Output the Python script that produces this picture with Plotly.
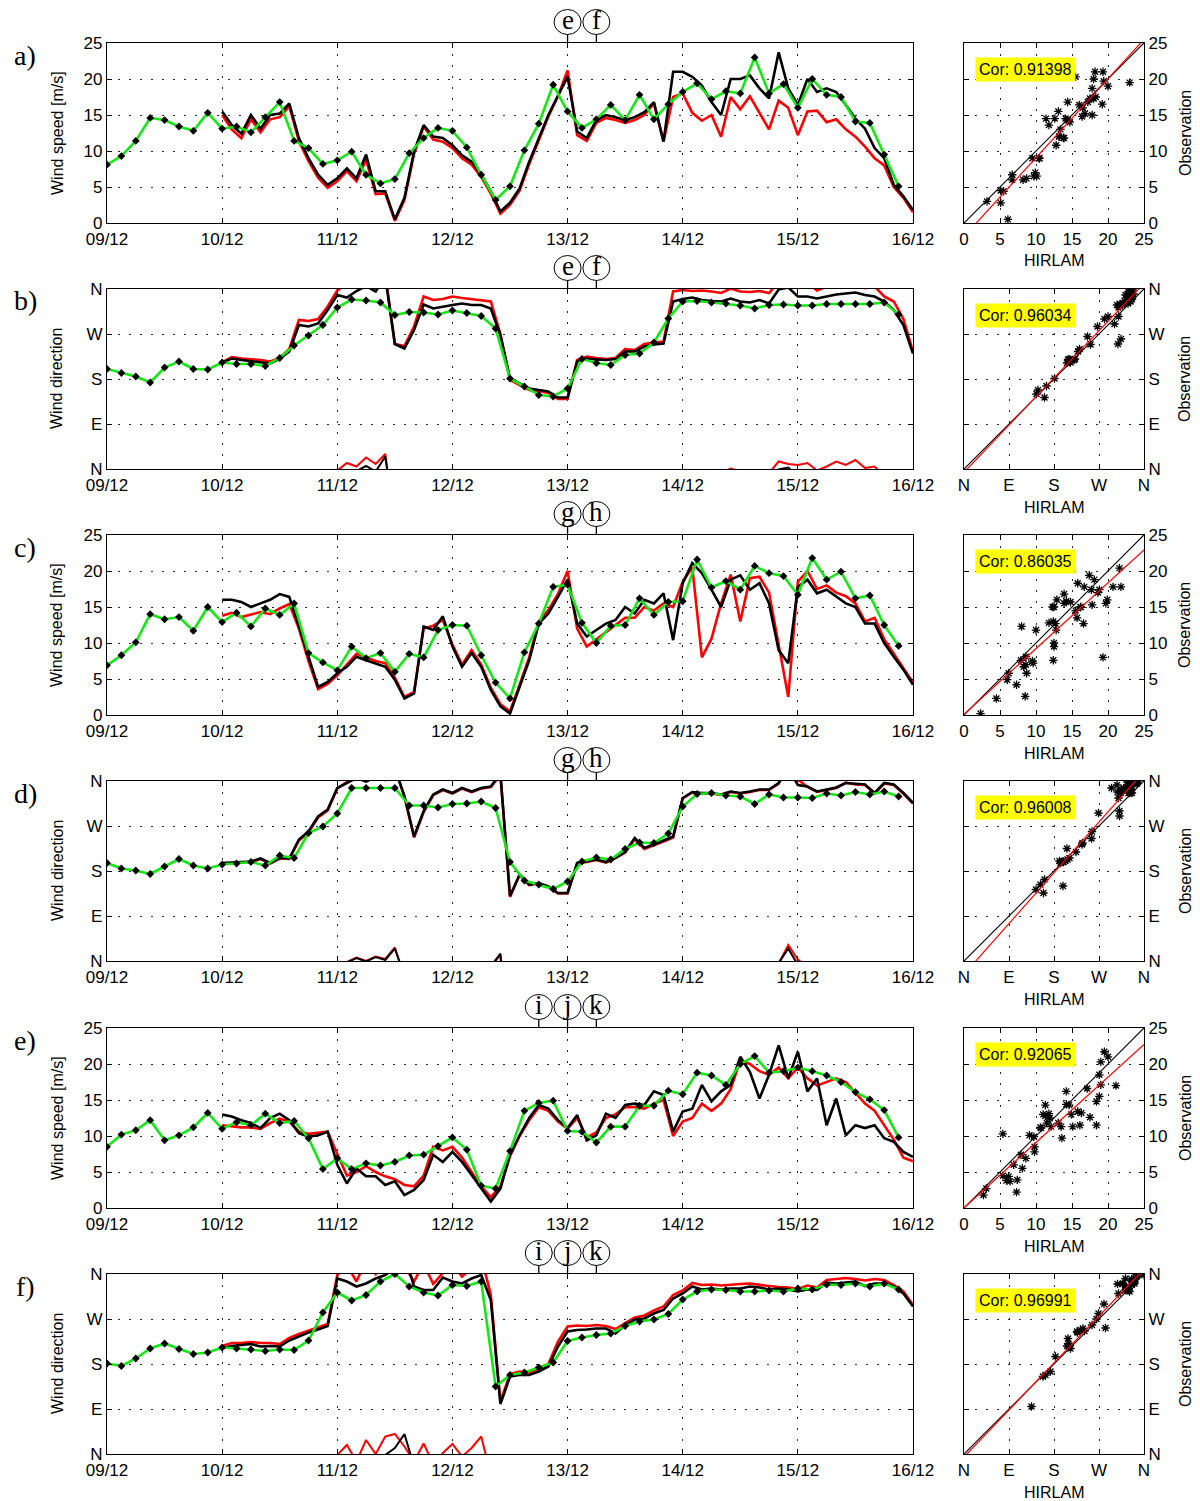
import numpy as np
import plotly.graph_objects as go

W, H = 1200, 1501

day_labels = ["09/12", "10/12", "11/12", "12/12", "13/12", "14/12", "15/12", "16/12"]
dir_labels = ["N", "E", "S", "W", "N"]
speed_ticks = [0, 5, 10, 15, 20, 25]
dir_ticks = [0, 90, 180, 270, 360]
cor_values = ["0.91398", "0.96034", "0.86035", "0.96008", "0.92065", "0.96991"]

# times in days since 09/12 00:00
t_model = np.arange(56) / 8.0        # HIRLAM, 3-hourly
t_obs = 1.0 + np.arange(73) / 12.0   # observations, 2-hourly

# ---- a) wind speed
a_model = [8.1, 9.3, 11.4, 14.6, 14.3, 13.4, 12.8, 15.3, 13.1, 13.4, 12.6, 14.7, 16.8, 11.4, 10.4, 8.2,
           8.7, 9.9, 6.7, 5.5, 6.1, 9.7, 11.8, 13.2, 12.8, 10.5, 6.7, 3.2, 5.1, 10.1, 13.8, 19.2,
           15.5, 13.2, 14.4, 16.4, 14.3, 17.8, 14.4, 16.5, 18.2, 19.4, 17.2, 18.3, 18.0, 23.0, 18.0, 19.3,
           16.0, 20.0, 17.8, 17.5, 14.1, 13.9, 9.5, 5.1]
a_obs = [15.5, 13.6, 12.4, 15.0, 13.1, 15.0, 15.2, 16.6, 11.8, 9.0, 6.7, 5.3,
         6.2, 7.6, 6.2, 9.5, 4.4, 4.4, 0.5, 3.5, 9.9, 13.6, 12.0, 11.8,
         10.8, 9.4, 8.5, 6.7, 4.4, 1.6, 2.8, 4.8, 8.5, 11.8, 15.0, 17.7,
         20.3, 12.7, 11.8, 14.3, 15.0, 14.7, 14.3, 14.7, 15.4, 16.8, 11.3, 21.0,
         21.0, 20.3, 19.1, 16.8, 15.0, 20.0, 20.0, 20.5, 18.7, 17.3, 23.7, 18.7,
         16.4, 20.0, 18.2, 18.7, 18.2, 16.4, 14.5, 13.1, 10.4, 9.0, 5.3, 3.7,
         1.8]
a_alt = [15.0, 13.0, 11.8, 14.4, 12.6, 14.4, 14.7, 16.2, 11.4, 8.6, 6.3, 4.9,
         5.8, 7.2, 5.8, 8.8, 4.0, 4.1, 0.3, 3.2, 9.6, 13.4, 11.6, 11.3,
         10.4, 9.0, 8.1, 6.4, 4.1, 1.3, 2.5, 4.5, 8.2, 11.5, 14.8, 17.6,
         21.2, 12.2, 11.4, 13.9, 14.6, 14.3, 13.9, 14.3, 15.0, 16.6, 11.3, 17.5,
         18.0, 15.3, 14.2, 15.0, 12.0, 17.5, 15.8, 17.6, 15.2, 13.0, 17.0, 16.0,
         12.2, 15.5, 15.6, 14.0, 14.4, 13.0, 12.0, 10.6, 9.0, 8.0, 5.0, 3.5,
         1.5]
# observations at the HIRLAM times 10/12 00h ... 15/12 21h (scatter panel)
a_sc_obs = [15.5, 13.0, 14.5, 14.0, 15.2, 14.5, 9.0, 6.0, 6.2, 7.0, 6.0, 4.4,
            0.5, 6.5, 13.6, 12.0, 10.8, 9.0, 6.7, 3.0, 2.8, 6.5, 11.8, 16.5,
            20.3, 12.0, 14.3, 14.8, 14.3, 15.0, 16.8, 16.0, 21.0, 19.7, 16.8, 17.5,
            20.0, 19.5, 17.3, 21.0, 16.4, 19.0, 18.7, 17.3, 14.5, 11.8, 9.0, 4.5]

# ---- b) wind direction (deg)
b_model = [200, 192, 185, 173, 203, 215, 200, 199, 213, 210, 210, 206, 222, 247, 267, 288,
           323, 339, 337, 333, 308, 314, 313, 309, 317, 312, 306, 281, 181, 165, 148, 145,
           161, 220, 212, 208, 228, 231, 253, 301, 335, 336, 333, 331, 327, 321, 328, 329,
           327, 327, 330, 330, 330, 330, 333, 309]
b_obs = [213, 221, 218, 216, 213, 211, 220, 235, 288, 285, 291, 318,
         348, 343, 356, 366, 355, 385, 250, 241, 278, 329, 321, 325,
         328, 331, 328, 328, 321, 268, 181, 171, 161, 158, 155, 143,
         143, 215, 221, 219, 218, 220, 235, 235, 245, 249, 251, 335,
         340, 343, 338, 336, 335, 341, 335, 333, 338, 331, 359, 363,
         345, 345, 341, 345, 349, 351, 353, 348, 345, 335, 318, 288,
         231]
b_alt = [213, 224, 221, 220, 218, 215, 222, 240, 298, 296, 300, 325,
         357, 372, 365, 383, 370, 390, 250, 246, 285, 345, 338, 340,
         345, 342, 340, 338, 335, 270, 178, 168, 158, 156, 152, 140,
         140, 218, 225, 222, 220, 222, 240, 238, 250, 253, 255, 355,
         358, 356, 357, 355, 352, 361, 355, 354, 356, 352, 375, 370,
         368, 372, 357, 365, 375, 368, 378, 362, 365, 345, 335, 300,
         235]
b_sc_obs = [213, 219, 216, 212, 220, 265, 285, 305, 348, 350, 358, 358,
            250, 260, 329, 323, 328, 330, 328, 300, 181, 166, 158, 150,
            143, 218, 219, 219, 235, 240, 249, 290, 340, 340, 336, 338,
            335, 336, 331, 355, 345, 343, 345, 350, 353, 346, 335, 305]

# ---- c) wind speed
c_model = [6.9, 8.3, 10.1, 14.0, 13.3, 13.6, 11.7, 15.0, 12.9, 14.2, 12.3, 14.8, 13.9, 15.5, 8.6, 7.3,
           6.2, 9.5, 7.9, 8.6, 6.0, 8.5, 8.0, 11.8, 12.5, 12.4, 8.3, 4.5, 2.3, 8.7, 12.7, 17.8,
           18.1, 12.8, 10.0, 12.4, 12.5, 16.2, 13.9, 15.7, 15.8, 21.6, 17.7, 18.6, 17.4, 20.7, 19.7, 19.3,
           16.7, 21.8, 18.8, 19.9, 16.2, 16.6, 12.5, 9.6]
c_obs = [16.0, 16.0, 15.7, 15.0, 15.5, 16.0, 16.8, 16.4, 12.3, 8.1, 3.9, 4.6,
         5.8, 6.7, 8.1, 7.6, 7.2, 6.7, 4.9, 2.3, 3.0, 12.3, 11.8, 13.7,
         9.5, 6.7, 8.6, 6.7, 3.5, 1.2, 0.2, 3.9, 7.6, 12.7, 14.1, 16.4,
         18.8, 12.7, 10.9, 11.8, 12.7, 13.2, 15.0, 14.1, 16.0, 15.5, 16.9, 10.4,
         18.3, 21.1, 19.7, 17.4, 15.0, 18.8, 19.4, 17.4, 18.3, 15.5, 9.0, 7.2,
         17.8, 18.8, 16.9, 17.4, 16.4, 15.5, 15.0, 12.7, 12.7, 10.0, 8.1, 6.3,
         4.2]
c_alt = [13.8, 14.2, 13.6, 13.9, 14.3, 14.0, 14.8, 15.4, 12.0, 7.5, 3.6, 4.3,
         5.5, 7.0, 8.5, 8.0, 7.5, 7.2, 5.2, 2.5, 3.2, 12.0, 12.4, 13.2,
         9.8, 7.0, 9.0, 7.0, 3.8, 1.5, 0.5, 4.2, 8.0, 13.0, 14.6, 16.8,
         20.0, 12.0, 9.5, 10.5, 11.5, 12.5, 13.5, 13.5, 15.0, 14.5, 15.5, 15.0,
         18.5, 20.5, 8.0, 10.6, 15.5, 19.5, 13.0, 19.0, 19.2, 17.0, 10.0, 2.5,
         18.5, 20.0, 17.5, 18.0, 17.0, 16.5, 15.5, 13.0, 13.5, 10.5, 8.5, 6.5,
         4.5]
c_sc_obs = [16.0, 15.8, 15.0, 15.7, 16.8, 14.5, 8.1, 4.2, 5.8, 7.5, 7.6, 7.0,
            4.9, 2.6, 12.3, 12.8, 9.5, 7.6, 6.7, 2.3, 0.2, 5.8, 12.7, 15.3,
            18.8, 11.8, 11.8, 13.0, 15.0, 15.0, 15.5, 13.5, 18.3, 20.4, 17.4, 17.0,
            19.4, 17.8, 15.5, 8.0, 17.8, 17.8, 17.4, 16.0, 15.0, 12.7, 10.0, 7.2]

# ---- d) wind direction
d_model = [196, 185, 181, 174, 189, 204, 191, 185, 193, 195, 198, 191, 211, 206, 256, 269,
           295, 346, 346, 346, 346, 311, 311, 307, 314, 315, 319, 306, 198, 161, 153, 144,
           159, 199, 207, 203, 224, 237, 236, 255, 309, 334, 336, 331, 329, 314, 333, 327,
           327, 326, 335, 331, 338, 333, 339, 329]
d_obs = [196, 197, 198, 199, 205, 196, 206, 205, 243, 259, 289, 303,
         346, 357, 366, 359, 368, 362, 385, 330, 249, 300, 333, 343,
         336, 346, 339, 346, 349, 375, 130, 173, 153, 156, 149, 136,
         136, 196, 199, 203, 198, 207, 218, 246, 226, 233, 241, 249,
         326, 338, 336, 336, 333, 339, 336, 339, 343, 343, 356, 385,
         352, 349, 339, 343, 347, 356, 354, 353, 336, 356, 353, 336,
         316]
d_alt = [195, 196, 197, 198, 204, 195, 205, 204, 241, 257, 287, 301,
         345, 358, 367, 360, 369, 364, 387, 328, 247, 298, 332, 342,
         335, 345, 338, 345, 348, 372, 128, 172, 152, 155, 148, 135,
         135, 195, 198, 202, 197, 206, 217, 244, 224, 231, 239, 247,
         325, 337, 335, 335, 332, 338, 335, 338, 342, 342, 355, 392,
         363, 348, 338, 342, 346, 357, 353, 352, 335, 355, 352, 335,
         315]
d_sc_obs = [196, 198, 199, 200, 206, 225, 259, 296, 346, 358, 359, 358,
            355, 290, 300, 338, 336, 342, 346, 352, 150, 163, 153, 143,
            136, 198, 203, 200, 218, 236, 233, 245, 326, 337, 336, 336,
            336, 341, 343, 358, 352, 344, 343, 352, 354, 345, 356, 345]

# ---- e) wind speed
e_model = [8.5, 10.2, 10.8, 12.2, 9.4, 10.1, 11.2, 13.2, 11.0, 11.9, 11.5, 13.1, 11.8, 12.1, 9.7, 5.4,
           6.9, 5.4, 6.2, 5.9, 6.4, 7.3, 7.4, 8.6, 9.8, 8.1, 3.1, 2.7, 7.9, 13.5, 14.6, 14.9,
           10.7, 10.6, 9.1, 11.3, 11.3, 14.2, 14.2, 16.3, 15.8, 18.8, 18.4, 17.1, 20.0, 21.1, 18.8, 19.0,
           19.5, 19.0, 18.4, 17.5, 16.1, 15.1, 13.6, 9.8]
e_obs = [13.0, 12.7, 12.2, 11.8, 11.1, 12.5, 13.1, 12.2, 10.4, 9.9, 10.1, 10.6,
         6.0, 3.4, 5.5, 4.4, 4.4, 3.2, 3.7, 1.8, 2.5, 3.9, 7.4, 6.4,
         7.8, 6.4, 4.6, 2.7, 0.9, 2.7, 7.4, 10.1, 12.5, 14.3, 13.8, 12.2,
         11.1, 12.9, 9.4, 10.1, 13.1, 12.5, 14.3, 14.5, 14.3, 16.2, 15.7, 10.6,
         13.4, 13.8, 17.1, 14.8, 16.2, 17.1, 21.0, 18.9, 15.2, 18.5, 22.6, 18.0,
         21.7, 16.2, 18.0, 11.5, 15.2, 10.1, 11.5, 11.1, 11.5, 9.7, 9.2, 7.8,
         7.1]
e_alt = [11.5, 11.3, 11.2, 11.2, 11.0, 11.8, 12.4, 12.0, 10.6, 10.3, 10.5, 10.6,
         7.5, 4.5, 5.0, 5.8, 5.0, 4.4, 4.0, 3.2, 3.0, 4.5, 8.5, 8.0,
         8.5, 7.0, 5.0, 3.0, 1.5, 3.0, 7.2, 10.0, 12.2, 14.0, 13.5, 12.0,
         11.0, 12.5, 9.8, 10.5, 12.5, 13.0, 14.0, 14.0, 13.8, 14.5, 15.0, 10.0,
         12.0, 12.5, 14.5, 13.5, 14.5, 16.5, 20.5, 20.0, 19.0, 18.5, 19.5, 18.0,
         19.5, 18.0, 17.0, 17.5, 18.0, 17.5, 16.0, 14.5, 13.5, 11.5, 9.5, 7.0,
         6.5]
e_sc_obs = [13.0, 12.5, 11.8, 11.8, 13.1, 11.3, 9.9, 10.3, 6.0, 4.5, 4.4, 3.8,
            3.7, 2.2, 3.9, 6.9, 7.8, 5.5, 2.7, 1.8, 7.4, 11.3, 14.3, 13.0,
            11.1, 11.2, 10.1, 12.8, 14.3, 14.4, 16.2, 13.2, 13.4, 15.5, 14.8, 16.6,
            21.0, 17.0, 18.5, 20.3, 21.7, 17.1, 11.5, 12.6, 11.5, 11.3, 9.7, 8.5]

# ---- f) wind direction
f_model = [181, 176, 191, 211, 221, 210, 200, 203, 213, 211, 209, 206, 209, 208, 227, 283,
           323, 307, 318, 345, 360, 335, 323, 317, 338, 336, 345, 135, 158, 163, 173, 183,
           226, 233, 238, 241, 256, 265, 269, 280, 309, 325, 329, 328, 325, 325, 327, 325,
           331, 329, 339, 338, 341, 335, 341, 329]
f_obs = [211, 216, 218, 220, 215, 216, 215, 227, 235, 243, 249, 256,
         351, 345, 335, 341, 351, 358, 372, 400, 335, 328, 328, 353,
         345, 341, 351, 358, 308, 100, 155, 158, 158, 165, 175, 215,
         245, 248, 249, 251, 251, 241, 258, 269, 271, 281, 288, 311,
         321, 335, 329, 331, 329, 331, 331, 335, 333, 329, 331, 329,
         325, 329, 328, 343, 341, 343, 345, 336, 341, 341, 335, 321,
         295]
f_alt = [216, 222, 222, 224, 222, 222, 220, 232, 240, 247, 253, 260,
         358, 378, 345, 388, 360, 395, 400, 375, 345, 381, 340, 362,
         380, 355, 372, 395, 318, 105, 160, 165, 163, 170, 180, 225,
         255, 257, 256, 258, 256, 250, 262, 273, 277, 287, 295, 318,
         327, 342, 338, 339, 337, 339, 340, 341, 338, 336, 334, 333,
         330, 337, 333, 348, 350, 352, 350, 347, 350, 348, 338, 325,
         298]
f_sc_obs = [211, 217, 220, 216, 215, 231, 243, 252, 351, 340, 341, 355,
            358, 350, 328, 340, 345, 346, 358, 95, 155, 158, 165, 195,
            245, 248, 251, 246, 258, 270, 281, 300, 321, 332, 331, 330,
            331, 334, 329, 330, 325, 328, 343, 342, 345, 338, 341, 330]

panels = [
    dict(kind="speed", model=a_model, obs=a_obs, alt=a_alt, sc=a_sc_obs, label="a)", marks=[("e", 4.0), ("f", 4.25)]),
    dict(kind="dir", model=b_model, obs=b_obs, alt=b_alt, sc=b_sc_obs, label="b)", marks=[("e", 4.0), ("f", 4.25)]),
    dict(kind="speed", model=c_model, obs=c_obs, alt=c_alt, sc=c_sc_obs, label="c)", marks=[("g", 4.0), ("h", 4.25)]),
    dict(kind="dir", model=d_model, obs=d_obs, alt=d_alt, sc=d_sc_obs, label="d)", marks=[("g", 4.0), ("h", 4.25)]),
    dict(kind="speed", model=e_model, obs=e_obs, alt=e_alt, sc=e_sc_obs, label="e)",
         marks=[("i", 3.75), ("j", 4.0), ("k", 4.25)]),
    dict(kind="dir", model=f_model, obs=f_obs, alt=f_alt, sc=f_sc_obs, label="f)",
         marks=[("i", 3.75), ("j", 4.0), ("k", 4.25)]),
]

tops = [43, 289, 535, 781, 1028, 1274]
PH = 180
MX0, MX1 = 107, 913
SX0, SX1 = 964, 1144

GREEN = "rgb(20,232,20)"
FONT = "Liberation Sans, Arial, sans-serif"
SERIF = "Liberation Serif, DejaVu Serif, serif"
GRIDDASH = "2px,9px"


def py(px):
    return 1 - px / H


fig = go.Figure()
layout = dict(width=W, height=H, margin=dict(l=0, r=0, t=0, b=0, autoexpand=False),
              paper_bgcolor="white", plot_bgcolor="white", showlegend=False)
annotations = []
shapes = []

axis_common = dict(showline=True, linecolor="black", linewidth=1.3, mirror="ticks",
                   ticks="inside", ticklen=5, tickcolor="black", tickwidth=1,
                   showgrid=True, gridcolor="rgb(40,40,40)", gridwidth=1, griddash=GRIDDASH,
                   zeroline=False, automargin=False,
                   tickfont=dict(family=FONT, size=17, color="black"))


def label(text, xp, yp, size, family=FONT, angle=0, **kw):
    d = dict(text=text, x=xp / W, y=py(yp), xref="paper", yref="paper", showarrow=False,
             xanchor="center", yanchor="middle", textangle=angle,
             font=dict(family=family, size=size, color="black"))
    d.update(kw)
    return d


for i, p in enumerate(panels):
    top = tops[i]
    bot = top + PH
    mi, si = 2 * i + 1, 2 * i + 2
    mx, my = f"x{mi}", f"y{mi}"
    sx, sy = f"x{si}", f"y{si}"
    ydom = [py(bot), py(top)]
    is_dir = p["kind"] == "dir"
    obs = np.array(p["obs"], float)
    alt = np.array(p["alt"], float)
    model = np.array(p["model"], float)

    # time series
    fig.add_trace(go.Scatter(x=t_obs, y=alt, mode="lines", line=dict(color="red", width=2.6),
                             xaxis=mx, yaxis=my, hoverinfo="skip"))
    if is_dir:
        fig.add_trace(go.Scatter(x=t_obs, y=alt - 360, mode="lines", line=dict(color="red", width=2),
                                 xaxis=mx, yaxis=my, hoverinfo="skip"))
    fig.add_trace(go.Scatter(x=t_obs, y=obs, mode="lines", line=dict(color="black", width=2.6),
                             xaxis=mx, yaxis=my, hoverinfo="skip"))
    if is_dir:
        fig.add_trace(go.Scatter(x=t_obs, y=obs - 360, mode="lines", line=dict(color="black", width=2),
                                 xaxis=mx, yaxis=my, hoverinfo="skip"))
    fig.add_trace(go.Scatter(x=t_model, y=model, mode="lines+markers",
                             line=dict(color=GREEN, width=2.6),
                             marker=dict(symbol="diamond", size=6, color="black"),
                             xaxis=mx, yaxis=my, hoverinfo="skip"))

    # scatter: HIRLAM vs observation at the HIRLAM times from 10/12
    hx = model[8:]
    ob = np.array(p["sc"], float)
    rng = 360 if is_dir else 25
    fig.add_trace(go.Scatter(x=hx, y=ob, mode="markers",
                             marker=dict(symbol="asterisk-open", size=7, color="black",
                                         line=dict(color="black", width=1.3)),
                             xaxis=sx, yaxis=sy, hoverinfo="skip"))
    fig.add_trace(go.Scatter(x=[0, rng], y=[0, rng], mode="lines", line=dict(color="black", width=1.2),
                             xaxis=sx, yaxis=sy, hoverinfo="skip"))
    k, b = np.polyfit(hx, ob, 1)
    fig.add_trace(go.Scatter(x=[0, rng], y=[b, k * rng + b], mode="lines", line=dict(color="red", width=1.2),
                             xaxis=sx, yaxis=sy, hoverinfo="skip"))

    if is_dir:
        ytv, ytt, yr = dir_ticks, dir_labels, [0, 360]
    else:
        ytv, ytt, yr = speed_ticks, [str(v) for v in speed_ticks], [0, 25]

    layout["xaxis" + ("" if mi == 1 else str(mi))] = dict(axis_common, domain=[MX0 / W, MX1 / W], range=[0, 7],
                                                           tickvals=list(range(8)), ticktext=day_labels, anchor=my)
    layout["yaxis" + str(mi)] = dict(axis_common, domain=ydom, range=yr, tickvals=ytv, ticktext=ytt, anchor=mx)
    layout["xaxis" + str(si)] = dict(axis_common, domain=[SX0 / W, SX1 / W], range=yr, tickvals=ytv,
                                     ticktext=ytt, anchor=sy)
    layout["yaxis" + str(si)] = dict(axis_common, domain=ydom, range=yr, tickvals=ytv, ticktext=ytt,
                                     anchor=sx, side="right")

    # texts
    annotations.append(label("Wind direction" if is_dir else "Wind speed [m/s]", 57, top + PH / 2, 16, angle=-90))
    annotations.append(label("HIRLAM", (SX0 + SX1) / 2, bot + 38, 16))
    annotations.append(label("Observation", 1185, top + PH / 2, 16, angle=-90))
    annotations.append(label(p["label"], 25, top + 12, 28, family=SERIF))
    annotations.append(dict(text="Cor: " + cor_values[i], x=0.06, y=0.92, xref=sx + " domain",
                            yref=sy + " domain", xanchor="left", yanchor="top", showarrow=False,
                            bgcolor="yellow", borderpad=3,
                            font=dict(family=FONT, size=16, color="black")))
    for letter, tm in p["marks"]:
        cy = py(top - 21)
        shapes.append(dict(type="circle", xref=mx, yref="paper", xsizemode="pixel", ysizemode="pixel",
                           xanchor=tm, yanchor=cy, x0=-13.5, x1=13.5, y0=-12.5, y1=12.5,
                           line=dict(color="black", width=1)))
        shapes.append(dict(type="line", xref=mx, yref="paper", x0=tm, x1=tm, y0=py(top - 8.5), y1=py(top),
                           line=dict(color="black", width=1.3)))
        annotations.append(dict(text=letter, x=tm, y=cy, xref=mx, yref="paper", showarrow=False,
                                xanchor="center", yanchor="middle", yshift=2,
                                font=dict(family=SERIF, size=27, color="black")))

layout["annotations"] = annotations
layout["shapes"] = shapes
fig.update_layout(**layout)
fig.write_html("out.html")
